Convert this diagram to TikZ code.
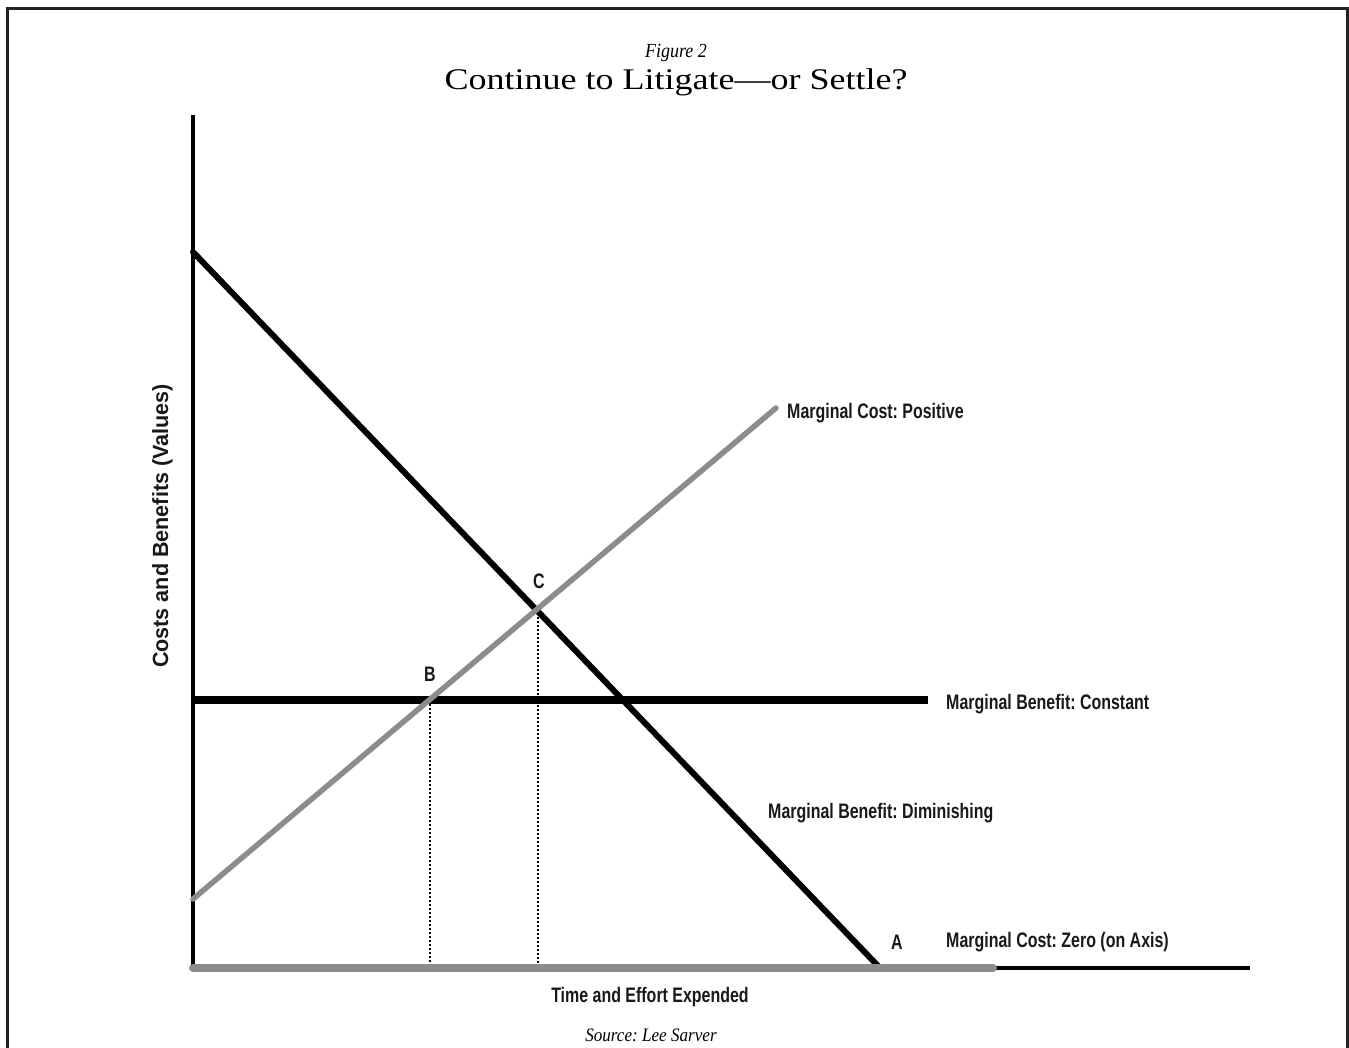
\documentclass[tikz,border=0pt]{standalone}
\usepackage{fontspec}
\setmainfont{Liberation Serif}
\newfontfamily\labfont[FakeStretch=0.76]{Liberation Sans}
\newfontfamily\ylabfont[FakeStretch=0.98]{Liberation Sans}
\newfontfamily\titlefont[FakeStretch=1.2]{Liberation Serif}
\newfontfamily\figfont[FakeStretch=0.9]{Liberation Serif}
\definecolor{lgrey}{HTML}{8C8C8C}
\definecolor{frame}{HTML}{222222}
\begin{document}
\frenchspacing
\begin{tikzpicture}[x=1pt,y=-1pt,
  lab/.style={font=\labfont\bfseries\fontsize{21}{21}\selectfont, inner sep=0pt, text=black!90},
  ylab/.style={font=\ylabfont\bfseries\fontsize{22}{22}\selectfont, inner sep=0pt, text=black!90},
  axisline/.style={line width=4pt, black},
  blackcurve/.style={line width=6pt, black, line cap=round},
  greycurve/.style={line width=5.5pt, lgrey, line cap=round},
  dropline/.style={line width=1.5pt, black, dash pattern=on 1.5pt off 2.5pt}]
\useasboundingbox (0,0) rectangle (1349,1048);
% frame
\draw[line width=3pt, frame] (7,1060) -- (7,9) -- (1347,9) -- (1347,1060);
% coordinates
\coordinate (O) at (193,968);
\coordinate (Ytop) at (193,115);
\coordinate (Xend) at (1250,968);
\coordinate (Gend) at (993,968);
\coordinate (D0) at (193,252);
\coordinate (A) at (880,968);
\coordinate (K0) at (193,700);
\coordinate (K1) at (928,700);
\coordinate (P0) at (193,899);
\coordinate (P1) at (776,408);
\coordinate (B) at (430,700);
\coordinate (C) at (538,609);
\coordinate (Bb) at (430,968);
\coordinate (Cb) at (538,968);
% axes
\draw[axisline] (Ytop) -- (O);
\draw[line width=3.5pt] (O) -- (Xend);
% drop lines
\draw[dropline] (B) -- (Bb);
\draw[dropline] (C) -- (Cb);
% curves
\draw[line width=8pt, black] (K0) -- (K1);
\draw[blackcurve] (D0) -- (A);
\draw[greycurve] (P0) -- (P1);
\draw[line width=8pt, lgrey, line cap=round] (O) -- (Gend);
% labels
\node[lab, anchor=base west] (lpos) at (787,418) {Marginal Cost: Positive};
\node[lab, anchor=base west] (lcon) at (946,709) {Marginal Benefit: Constant};
\node[lab, anchor=base west] (ldim) at (768,818) {Marginal Benefit: Diminishing};
\node[lab, anchor=base west] (lzero) at (946,947) {Marginal Cost: Zero (on Axis)};
\node[lab, anchor=base] (la) at (897,949) {A};
\node[lab, anchor=base] (lb) at (430,681) {B};
\node[lab, anchor=base] (lc) at (539,588) {C};
\node[lab, anchor=base] (lx) at (650,1002) {Time and Effort Expended};
\node[ylab, rotate=90, anchor=base] (ly) at (168,526) {Costs and Benefits (Values)};
\node[font=\figfont\itshape\fontsize{19}{19}\selectfont, anchor=base, inner sep=0pt] (src) at (651,1041) {Source: Lee Sarver};
\node[font=\figfont\itshape\fontsize{20}{20}\selectfont, anchor=base, inner sep=0pt] (fig) at (676,58) {Figure 2};
\node[font=\titlefont\fontsize{30}{30}\selectfont, anchor=base, inner sep=0pt] (title) at (676,90) {Continue to Litigate—or Settle?};
\end{tikzpicture}
\end{document}
